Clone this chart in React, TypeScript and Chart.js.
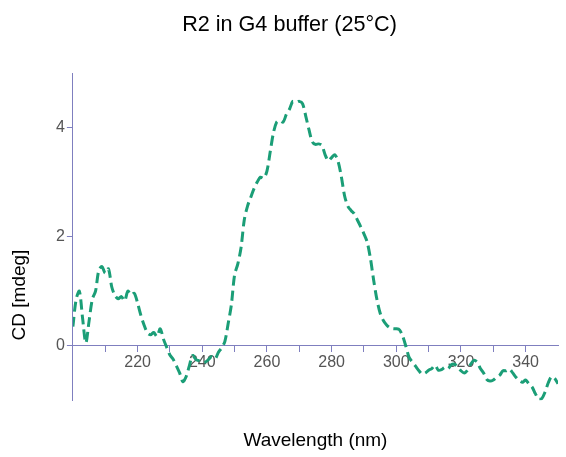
import React, { useEffect, useRef } from 'react';
import { Chart, registerables } from 'chart.js';

Chart.register(...registerables);

const TITLE = 'R2 in G4 buffer (25°C)';
const X_TITLE = 'Wavelength (nm)';
const Y_TITLE = 'CD [mdeg]';

const wavelengths = [
  200, 201, 202, 203, 204, 205, 206, 207, 208, 209,
  210, 211, 212, 213, 214, 215, 216, 217, 218, 219,
  220, 221, 222, 223, 224, 225, 226, 227, 228, 229,
  230, 231, 232, 233, 234, 235, 236, 237, 238, 239,
  240, 241, 242, 243, 244, 245, 246, 247, 248, 249,
  250, 251, 252, 253, 254, 255, 256, 257, 258, 259,
  260, 261, 262, 263, 264, 265, 266, 267, 268, 269,
  270, 271, 272, 273, 274, 275, 276, 277, 278, 279,
  280, 281, 282, 283, 284, 285, 286, 287, 288, 289,
  290, 291, 292, 293, 294, 295, 296, 297, 298, 299,
  300, 301, 302, 303, 304, 305, 306, 307, 308, 309,
  310, 311, 312, 313, 314, 315, 316, 317, 318, 319,
  320, 321, 322, 323, 324, 325, 326, 327, 328, 329,
  330, 331, 332, 333, 334, 335, 336, 337, 338, 339,
  340, 341, 342, 343, 344, 345, 346, 347, 348, 349,
  350,
];

const cdValues = [
  0.35, 0.85, 1.0, 0.5, 0.05, 0.45, 0.85, 1.0, 1.38, 1.45,
  1.33, 1.41, 1.08, 0.92, 0.86, 0.9, 0.82, 1.0, 0.93, 0.96,
  0.78, 0.56, 0.38, 0.24, 0.2, 0.24, 0.17, 0.31, 0.12, -0.03,
  -0.17, -0.25, -0.37, -0.5, -0.66, -0.57, -0.37, -0.18, -0.25, -0.28,
  -0.31, -0.3, -0.25, -0.2, -0.24, -0.12, -0.04, 0.08, 0.4, 0.75,
  1.3, 1.5, 1.8, 2.31, 2.56, 2.72, 2.88, 3.0, 3.09, 3.07,
  3.2, 3.55, 3.9, 4.1, 4.13, 4.1, 4.24, 4.34, 4.48, 4.46,
  4.48, 4.44, 4.21, 3.96, 3.74, 3.69, 3.7, 3.67, 3.5, 3.39,
  3.45, 3.5, 3.38, 3.1, 2.75, 2.56, 2.48, 2.42, 2.3, 2.18,
  2.05, 1.9, 1.6, 1.2, 0.85, 0.6, 0.46, 0.38, 0.33, 0.31,
  0.31, 0.29, 0.17, -0.02, -0.22, -0.3, -0.38, -0.46, -0.52, -0.5,
  -0.45, -0.42, -0.36, -0.45, -0.44, -0.4, -0.42, -0.35, -0.34, -0.39,
  -0.46, -0.5, -0.45, -0.34, -0.27, -0.3, -0.42, -0.5, -0.62, -0.65,
  -0.63, -0.58, -0.54, -0.46, -0.46, -0.43, -0.5, -0.58, -0.64, -0.67,
  -0.63, -0.7, -0.76, -0.88, -0.98, -0.97, -0.85, -0.68, -0.57, -0.6,
  -0.7,
];

const xTickValues = [210, 220, 230, 240, 250, 260, 270, 280, 290, 300, 310, 320, 330, 340];
const xTickLabels = [220, 240, 260, 280, 300, 320, 340];
const yTickValues = [0, 2, 4];

const AXIS_COLOR = '#7f7fbf';
const LINE_COLOR = '#1b9e77';
const FONT = 'Liberation Sans, Arial, Helvetica, sans-serif';

const textPlugin = {
  id: 'extraTexts',
  afterDraw(chart: any) {
    const ctx = chart.ctx as CanvasRenderingContext2D;
    ctx.save();
    ctx.fillStyle = '#000';
    ctx.textAlign = 'center';
    ctx.textBaseline = 'middle';
    ctx.font = `21.6px ${FONT}`;
    ctx.fillText(TITLE, 289.5, 25);
    ctx.translate(20, 295);
    ctx.rotate(-Math.PI / 2);
    ctx.font = `19px ${FONT}`;
    ctx.fillText(Y_TITLE, 0, 0);
    ctx.restore();
  },
};

export default function App() {
  const canvasRef = useRef<HTMLCanvasElement | null>(null);

  useEffect(() => {
    document.body.style.margin = '0';
    const canvas = canvasRef.current;
    if (!canvas) return;
    const chart = new Chart(canvas, {
      type: 'line',
      data: {
        datasets: [
          {
            data: wavelengths.map((w, i) => ({ x: w, y: cdValues[i] })),
            xAxisID: 'x',
            yAxisID: 'y',
            borderColor: LINE_COLOR,
            borderWidth: 3,
            borderDash: [10, 5],
            pointRadius: 0,
            tension: 0.3,
            fill: false,
          },
        ],
      },
      plugins: [textPlugin],
      options: {
        responsive: false,
        animation: false,
        layout: { padding: { left: 54, right: 8, top: 73, bottom: 0 } },
        plugins: {
          legend: { display: false },
          tooltip: { enabled: false },
          title: { display: false },
        },
        scales: {
          x: {
            type: 'linear',
            position: { y: 0 } as any,
            min: 200,
            max: 350,
            afterBuildTicks: (scale: any) => {
              scale.ticks = xTickValues.map((v) => ({ value: v }));
            },
            ticks: {
              autoSkip: false,
              maxRotation: 0,
              padding: 1,
              color: '#555',
              font: { family: FONT, size: 16 },
              callback: (v: any) => (xTickLabels.includes(Number(v)) ? String(v) : ''),
            },
            grid: {
              display: true,
              drawOnChartArea: false,
              drawTicks: true,
              tickLength: 6,
              color: AXIS_COLOR,
              tickColor: AXIS_COLOR,
            },
            border: { display: true, color: AXIS_COLOR, width: 1 },
          },
          x2: {
            type: 'linear',
            position: 'bottom',
            min: 200,
            max: 350,
            ticks: { display: false },
            grid: { display: false, drawTicks: false },
            border: { display: false },
            title: {
              display: true,
              text: X_TITLE,
              color: '#000',
              font: { family: FONT, size: 19 },
              padding: { top: 29, bottom: 5 },
            },
          },
          y: {
            type: 'linear',
            position: 'left',
            min: -1,
            max: 5,
            afterBuildTicks: (scale: any) => {
              scale.ticks = yTickValues.map((v) => ({ value: v }));
            },
            ticks: {
              padding: 2,
              color: '#555',
              font: { family: FONT, size: 16 },
            },
            grid: {
              display: true,
              drawOnChartArea: false,
              drawTicks: true,
              tickLength: 6,
              color: AXIS_COLOR,
              tickColor: AXIS_COLOR,
            },
            border: { display: true, color: AXIS_COLOR, width: 1 },
          },
        },
      },
    });
    return () => chart.destroy();
  }, []);

  return (
    <div style={{ width: 566, height: 457 }}>
      <canvas ref={canvasRef} width={566} height={457} style={{ display: 'block', width: 566, height: 457 }} />
    </div>
  );
}
